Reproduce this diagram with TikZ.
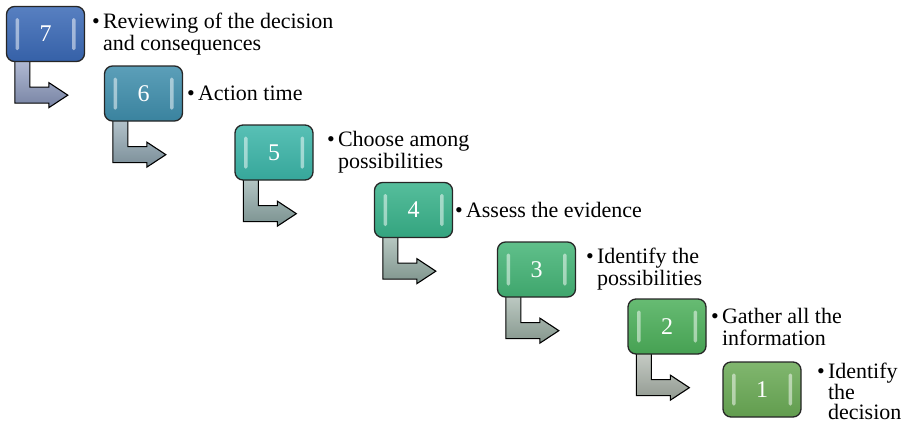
\documentclass[tikz,border=0pt]{standalone}
\usepackage{fontspec}
\setmainfont{Liberation Serif}
\newfontfamily\stepfont{Liberation Serif}
\usetikzlibrary{calc,backgrounds}

% fills of the numbered step boxes
\definecolor{c7}{HTML}{3A69B6}
\definecolor{c6}{HTML}{3F8EAC}
\definecolor{c5}{HTML}{3BB5A8}
\definecolor{c4}{HTML}{38B28A}
\definecolor{c3}{HTML}{44B476}
\definecolor{c2}{HTML}{4CAF5A}
\definecolor{c1}{HTML}{6AAA55}
% fills of the bent arrows
\definecolor{a7}{HTML}{8C9AC0}
\definecolor{a6}{HTML}{8FA6B2}
\definecolor{a5}{HTML}{8FAAA8}
\definecolor{a4}{HTML}{95AEA5}
\definecolor{a3}{HTML}{9DB1A6}
\definecolor{a2}{HTML}{ABB4AA}

\newcommand{\stepbullet}{\makebox[11pt][l]{\textbullet}}
\newcommand{\hang}{\hspace*{11pt}}

\tikzset{
  stepbox/.style={
    draw=black!85, line width=1.3pt, rounded corners=8pt,
    minimum width=78pt, minimum height=55pt, inner sep=0pt,
    text=white, font=\stepfont\fontsize{24}{24}\selectfont,
    top color=#1!85!white, bottom color=#1!92!black,
    path picture={
      \fill[white, opacity=.5, rounded corners=1.5pt]
        ($(path picture bounding box.west)+(9pt,16pt)$) rectangle ++(3.5pt,-32pt);
      \fill[white, opacity=.5, rounded corners=1.5pt]
        ($(path picture bounding box.east)+(-12.5pt,16pt)$) rectangle ++(3.5pt,-32pt);
    }},
  steptext/.style={anchor=west, align=left, inner sep=0pt,
    font=\stepfont\fontsize{22}{22}\selectfont},
  bentarrow/.style={draw=black, line width=1.1pt, line join=miter,
    top color=#1!65!white, bottom color=#1!85!black},
}

\begin{document}
\begin{tikzpicture}[x=1pt, y=-1pt]
\useasboundingbox (0,0) rectangle (907,426);

% numbered steps
\node[stepbox=c7] (b7) at (45.5,34)   {7};
\node[stepbox=c6] (b6) at (143.5,93.5) {6};
\node[stepbox=c5] (b5) at (274,152.5)  {5};
\node[stepbox=c4] (b4) at (413.5,210)  {4};
\node[stepbox=c3] (b3) at (536.5,269.5) {3};
\node[stepbox=c2] (b2) at (667,326.5)  {2};
\node[stepbox=c1] (b1) at (762,389.5)  {1};

% bullet texts beside each step
\node[steptext] (t7) at ($(b7.east)+(6.7,0)$)
  {\stepbullet Reviewing of the decision\\\hang and consequences};
\node[steptext] (t6) at ($(b6.east)+(3.7,0)$)
  {\stepbullet Action time};
\node[steptext] (t5) at ($(b5.east)+(13.2,0)$)
  {\stepbullet Choose among\\\hang possibilities};
\node[steptext] (t4) at ($(b4.east)+(1.7,0)$)
  {\stepbullet Assess the evidence};
\node[steptext] (t3) at ($(b3.east)+(9.7,0)$)
  {\stepbullet Identify the\\\hang possibilities};
\node[steptext] (t2) at ($(b2.east)+(4.2,0)$)
  {\stepbullet Gather all the\\\hang information};
\node[steptext, font=\stepfont\fontsize{22}{20}\selectfont] (t1) at ($(b1.east)+(15.2,2)$)
  {\stepbullet Identify\\\hang the\\\hang decision};

% bent arrows leading down from each step to the next one
\begin{scope}[on background layer]
\foreach \k/\c in {7/a7,6/a6,5/a5,4/a4,3/a3,2/a2}{
  \draw[bentarrow=\c]
    ($(b\k.south west)+(9,-4)$) -- ($(b\k.south west)+(9,41)$)
    -- ($(b\k.south west)+(43,41)$) -- ($(b\k.south west)+(43,45.5)$)
    -- ($(b\k.south west)+(62,33)$) -- ($(b\k.south west)+(43,20.5)$)
    -- ($(b\k.south west)+(43,25)$) -- ($(b\k.south west)+(24,25)$)
    -- ($(b\k.south west)+(24,-4)$) -- cycle;
}
\end{scope}
\end{tikzpicture}
\end{document}
